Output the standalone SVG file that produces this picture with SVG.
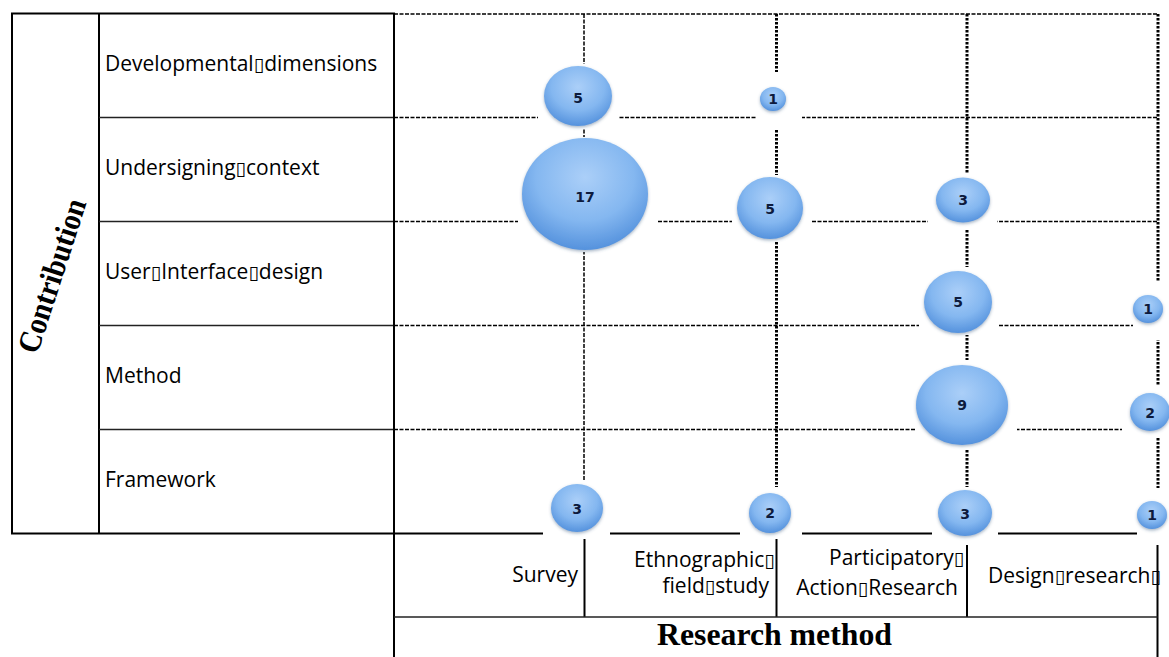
<svg xmlns="http://www.w3.org/2000/svg" width="1169" height="657" viewBox="0 0 1169 657">
<defs>
<style>
.lbl{font-family:"Open Sans","Liberation Sans",sans-serif;font-size:21px;fill:#000}
.bx{font-family:"DejaVu Sans",sans-serif;font-size:19px;fill:#000}
.ttl{font-family:"Liberation Serif","Times New Roman",serif;font-weight:bold;fill:#000}
.num{font-family:"DejaVu Sans",sans-serif;font-weight:bold;font-size:14px;fill:#0d1b3d;text-anchor:middle}
.sl{stroke:#000;stroke-width:2;fill:none}
.rl{stroke:#222;stroke-width:1.6;fill:none}
.dh{stroke:#000;stroke-width:1.5;stroke-dasharray:4 1.5;fill:none}
.dt{stroke:#000;stroke-width:3;stroke-dasharray:2.5 1.5;fill:none}
.bg{fill:#fff}
.bub{fill:url(#bg1);filter:url(#sh)}
</style>
<radialGradient id="bg1" cx="50%" cy="35%" r="65%">
<stop offset="0" stop-color="#abcff8"/>
<stop offset="0.6" stop-color="#84b7f0"/>
<stop offset="1" stop-color="#5592dd"/>
</radialGradient>
<filter id="sh" x="-30%" y="-30%" width="160%" height="170%">
<feDropShadow dx="0" dy="1.5" stdDeviation="1.5" flood-color="#3a5a80" flood-opacity="0.45"/>
</filter>
</defs>
<rect width="1169" height="657" fill="#fff"/>

<g id="grid">
<line class="dh" x1="394" y1="14" x2="1158" y2="14"/>
<line class="dh" x1="394" y1="117.5" x2="1158" y2="117.5"/>
<line class="dh" x1="394" y1="221.5" x2="1158" y2="221.5"/>
<line class="dh" x1="394" y1="325.5" x2="1158" y2="325.5"/>
<line class="dh" x1="394" y1="429.5" x2="1158" y2="429.5"/>
<line class="dh" x1="584" y1="14" x2="584" y2="533"/>
<line class="dt" x1="776.5" y1="14" x2="776.5" y2="533"/>
<line class="dt" x1="967" y1="14" x2="967" y2="533"/>
<line class="dt" x1="1158" y1="14" x2="1158" y2="533"/>
<line class="sl" x1="394" y1="533.5" x2="1158" y2="533.5"/>
</g>

<g id="label-table">
<rect class="sl" x="12" y="13.5" width="382" height="520"/>
<line class="sl" x1="99" y1="13.5" x2="99" y2="533.5"/>
<line class="rl" x1="99" y1="117.5" x2="394" y2="117.5"/>
<line class="rl" x1="99" y1="221.5" x2="394" y2="221.5"/>
<line class="rl" x1="99" y1="325.5" x2="394" y2="325.5"/>
<line class="rl" x1="99" y1="429.5" x2="394" y2="429.5"/>
<line class="sl" x1="394" y1="13.5" x2="394" y2="657"/>
</g>

<g id="axis-contribution">
<text class="ttl" font-size="29" text-anchor="middle" transform="translate(62,279) rotate(-72) scale(1,1.1)" textLength="160" lengthAdjust="spacingAndGlyphs">Contribution</text>
</g>

<g id="row-developmental"><text class="lbl" x="105" y="71">Developmental<tspan class="bx">▯</tspan>dimensions</text></g>
<g id="row-undersigning"><text class="lbl" x="105" y="175">Undersigning<tspan class="bx">▯</tspan>context</text></g>
<g id="row-ui"><text class="lbl" x="105" y="279">User<tspan class="bx">▯</tspan>Interface<tspan class="bx">▯</tspan>design</text></g>
<g id="row-method"><text class="lbl" x="105" y="383">Method</text></g>
<g id="row-framework"><text class="lbl" x="105" y="487">Framework</text></g>

<g id="bubble-backgrounds">
<rect class="bg" x="538" y="64" width="80" height="65"/>
<rect class="bg" x="518" y="137" width="139" height="115"/>
<rect class="bg" x="757" y="72" width="45" height="58"/>
<rect class="bg" x="732" y="175" width="80" height="67"/>
<rect class="bg" x="928" y="173" width="69" height="57"/>
<rect class="bg" x="919" y="267" width="79" height="68"/>
<rect class="bg" x="1133" y="282" width="36" height="58"/>
<rect class="bg" x="915" y="360" width="102" height="90"/>
<rect class="bg" x="1122" y="385" width="47" height="52"/>
<rect class="bg" x="543" y="480" width="67" height="58"/>
<rect class="bg" x="740" y="487" width="62" height="51"/>
<rect class="bg" x="932" y="487" width="66" height="51"/>
<rect class="bg" x="1137" y="488" width="32" height="55"/>
</g>

<g id="bubble-survey-dev"><ellipse class="bub" cx="578" cy="96" rx="34" ry="30"/><text class="num" x="578" y="103">5</text></g>
<g id="bubble-ethno-dev"><ellipse class="bub" cx="773" cy="99" rx="13" ry="12"/><text class="num" x="773" y="104">1</text></g>
<g id="bubble-survey-ctx"><ellipse class="bub" cx="585" cy="194" rx="63" ry="56"/><text class="num" x="585" y="202">17</text></g>
<g id="bubble-ethno-ctx"><ellipse class="bub" cx="770" cy="208" rx="33" ry="31"/><text class="num" x="770" y="214">5</text></g>
<g id="bubble-par-ctx"><ellipse class="bub" cx="963" cy="200" rx="27" ry="22.5"/><text class="num" x="963" y="205">3</text></g>
<g id="bubble-par-ui"><ellipse class="bub" cx="958" cy="302" rx="34" ry="31"/><text class="num" x="958" y="307">5</text></g>
<g id="bubble-design-ui"><ellipse class="bub" cx="1148" cy="309" rx="15" ry="14"/><text class="num" x="1148" y="314">1</text></g>
<g id="bubble-par-method"><ellipse class="bub" cx="962" cy="405" rx="46" ry="40"/><text class="num" x="962" y="410">9</text></g>
<g id="bubble-design-method"><ellipse class="bub" cx="1150" cy="412" rx="20" ry="19"/><text class="num" x="1150" y="418">2</text></g>
<g id="bubble-survey-fw"><ellipse class="bub" cx="577" cy="508" rx="26" ry="24"/><text class="num" x="577" y="514">3</text></g>
<g id="bubble-ethno-fw"><ellipse class="bub" cx="770" cy="513" rx="21" ry="20"/><text class="num" x="770" y="518">2</text></g>
<g id="bubble-par-fw"><ellipse class="bub" cx="965" cy="513" rx="27" ry="23"/><text class="num" x="965" y="519">3</text></g>
<g id="bubble-design-fw"><ellipse class="bub" cx="1152" cy="515" rx="15" ry="14"/><text class="num" x="1152" y="520">1</text></g>

<g id="method-header">
<line class="sl" x1="584.5" y1="539" x2="584.5" y2="617"/>
<line class="sl" x1="776.5" y1="539" x2="776.5" y2="617"/>
<line class="sl" x1="967" y1="545" x2="967" y2="617"/>
<line class="sl" x1="1157.5" y1="545" x2="1157.5" y2="657"/>
<line class="rl" x1="394" y1="617" x2="1157.5" y2="617"/>
</g>

<g id="col-survey"><text class="lbl" x="578" y="582" text-anchor="end">Survey</text></g>
<g id="col-ethno"><text class="lbl" x="634" y="567">Ethnographic<tspan class="bx">▯</tspan></text><text class="lbl" x="769" y="593" text-anchor="end">field<tspan class="bx">▯</tspan>study</text></g>
<g id="col-par"><text class="lbl" x="829" y="565">Participatory<tspan class="bx">▯</tspan></text><text class="lbl" x="958" y="595" text-anchor="end">Action<tspan class="bx">▯</tspan>Research</text></g>
<g id="col-design"><text class="lbl" x="988" y="583">Design<tspan class="bx">▯</tspan>research<tspan class="bx">▯</tspan></text></g>

<g id="axis-method">
<text class="ttl" font-size="30" transform="translate(657,645) scale(1,1.08)" textLength="235" lengthAdjust="spacingAndGlyphs">Research method</text>
</g>
</svg>
